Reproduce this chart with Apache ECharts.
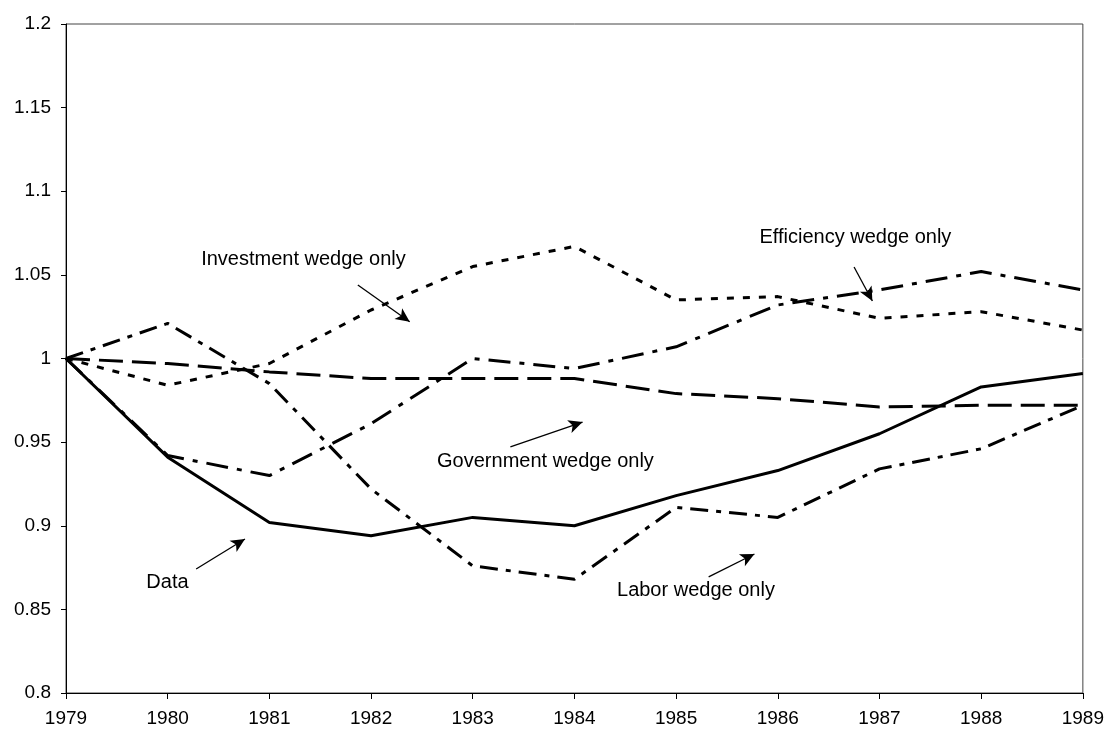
<!DOCTYPE html>
<html>
<head>
<meta charset="utf-8">
<script src="https://cdn.jsdelivr.net/npm/echarts@6/dist/echarts.min.js"></script>
<style>
  html, body { margin: 0; padding: 0; background: #fff; }
  #chart { width: 1107px; height: 732px; }
</style>
</head>
<body>
<div id="chart"></div>
<script>
const years = [1979, 1980, 1981, 1982, 1983, 1984, 1985, 1986, 1987, 1988, 1989]

const dataSeries = [1.0, 0.941, 0.902, 0.894, 0.905, 0.900, 0.918, 0.933, 0.955, 0.983, 0.991]
const governmentWedge = [1.0, 0.997, 0.992, 0.988, 0.988, 0.988, 0.979, 0.976, 0.971, 0.972, 0.972]
const investmentWedge = [1.0, 0.984, 0.997, 1.029, 1.055, 1.067, 1.035, 1.037, 1.024, 1.028, 1.017]
const laborWedge = [1.0, 1.021, 0.985, 0.922, 0.876, 0.868, 0.911, 0.905, 0.934, 0.946, 0.972]
const efficiencyWedge = [1.0, 0.942, 0.930, 0.961, 1.000, 0.994, 1.007, 1.032, 1.041, 1.052, 1.041]

const yTicks = [0.8, 0.85, 0.9, 0.95, 1, 1.05, 1.1, 1.15, 1.2]

// annotation labels: [text, centre year, centre value]
const labels = [
  ['Investment wedge only', 1981.335, 1.0595],
  ['Efficiency wedge only', 1986.763, 1.0726],
  ['Government wedge only', 1983.715, 0.9387],
  ['Data', 1979.998, 0.8658],
  ['Labor wedge only', 1985.195, 0.861]
]
// arrows: [from, to] in data coords
const arrows = [
  [[1981.87, 1.044], [1982.38, 1.022]],
  [[1986.75, 1.0547], [1986.93, 1.0344]],
  [[1983.37, 0.9471], [1984.08, 0.962]],
  [[1980.28, 0.8741], [1980.76, 0.8921]],
  [[1985.32, 0.8694], [1985.77, 0.8831]]
]

const pair = (vals) => years.map((y, i) => [y, vals[i]])
const fontFamily = '"Liberation Sans", Arial, sans-serif'

const lineSeries = (name, vals, type) => ({
  name,
  type: 'line',
  data: pair(vals),
  symbol: 'none',
  lineStyle: { color: '#000', width: 3, type },
  z: 3
})

const chart = echarts.init(document.getElementById('chart'))

const option = {
  animation: false,
  backgroundColor: '#fff',
  grid: {
    left: 66,
    right: 24,
    top: 24,
    bottom: 39,
    show: true,
    borderColor: '#444',
    borderWidth: 1
  },
  xAxis: {
    type: 'value',
    min: 1979,
    max: 1989,
    interval: 1,
    axisLine: { lineStyle: { color: '#000', width: 1 } },
    axisTick: { show: true, length: 6, lineStyle: { color: '#000' } },
    axisLabel: { color: '#000', fontSize: 19, fontFamily, margin: 16, formatter: v => String(v) },
    splitLine: { show: false }
  },
  yAxis: {
    type: 'value',
    min: 0.8,
    max: 1.2,
    interval: 0.05,
    axisLine: { show: true, lineStyle: { color: '#000', width: 1 } },
    axisTick: { show: true, length: 5, lineStyle: { color: '#000' } },
    axisLabel: {
      color: '#000', fontSize: 19, fontFamily, margin: 15,
      formatter: v => {
        const t = yTicks.find(k => Math.abs(k - v) < 1e-6)
        return t === undefined ? '' : String(+t.toFixed(2))
      }
    },
    splitLine: { show: false }
  },
  series: [
    lineSeries('Data', dataSeries, 'solid'),
    lineSeries('Government wedge only', governmentWedge, [24, 9]),
    lineSeries('Investment wedge only', investmentWedge, [7, 9]),
    lineSeries('Labor wedge only', laborWedge, [18, 8, 5, 8]),
    lineSeries('Efficiency wedge only', efficiencyWedge, [22, 9, 5, 9]),
    {
      name: 'annotations',
      type: 'line',
      data: [],
      symbol: 'none',
      silent: true,
      markLine: {
        silent: true,
        animation: false,
        symbol: ['none', 'arrow'],
        symbolSize: [10, 14],
        label: { show: false },
        lineStyle: { color: '#000', width: 1.3, type: 'solid' },
        data: arrows.map(a => [{ coord: a[0] }, { coord: a[1] }])
      },
      markPoint: {
        silent: true,
        animation: false,
        symbol: 'rect',
        symbolSize: 0,
        label: {
          show: true,
          position: 'inside',
          color: '#000',
          fontSize: 20,
          fontFamily
        },
        data: labels.map(l => ({ coord: [l[1], l[2]], value: l[0], label: { formatter: l[0] } }))
      }
    }
  ]
}

chart.setOption(option)
</script>
</body>
</html>
